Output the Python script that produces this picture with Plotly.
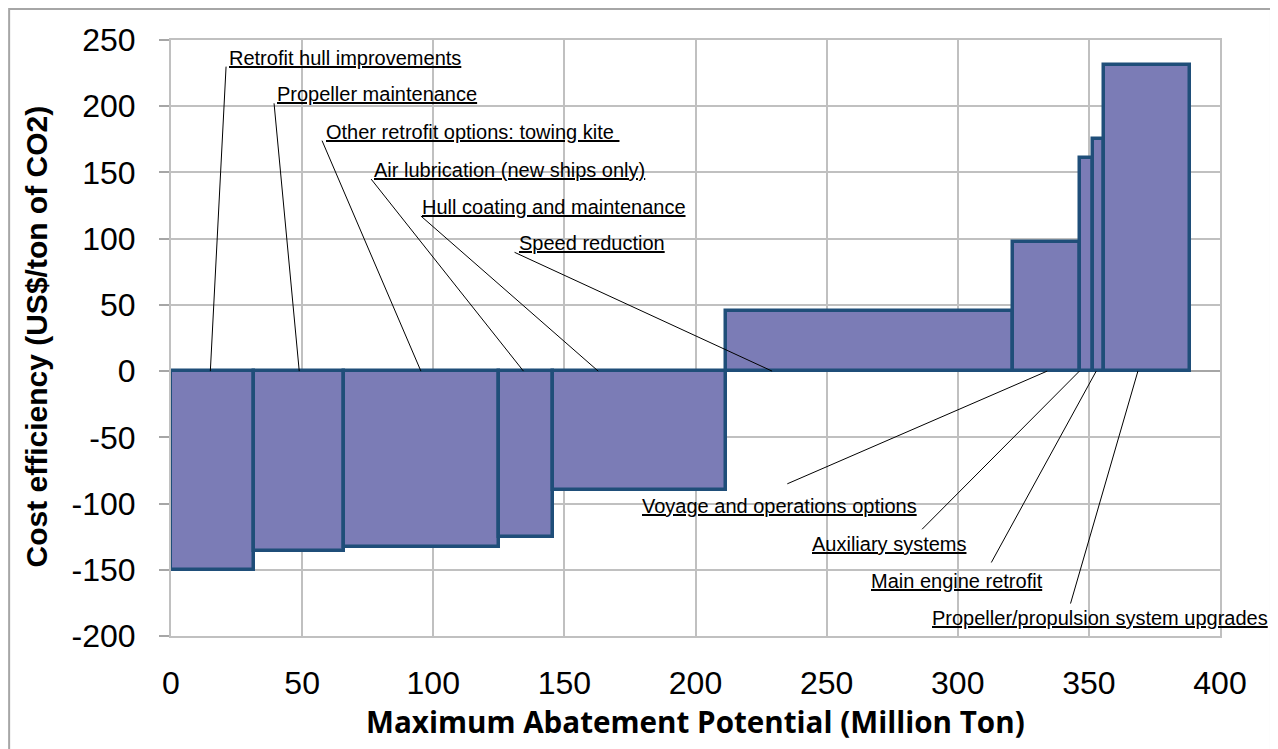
import numpy as np
import plotly.graph_objects as go

# Marginal abatement cost curve for shipping measures
measures = [
    "Retrofit hull improvements",
    "Propeller maintenance",
    "Other retrofit options: towing kite ",
    "Air lubrication (new ships only)",
    "Hull coating and maintenance",
    "Speed reduction",
    "Voyage and operations options",
    "Auxiliary systems",
    "Main engine retrofit",
    "Propeller/propulsion system upgrades",
]
abatement = [31.5, 34.3, 59.4, 20.4, 66.1, 109.3, 25.7, 4.8, 4.4, 32.6]  # Mt
cost = [-150, -136, -133, -125, -90, 45.5, 97.7, 160.7, 175.5, 231]     # US$/t CO2

x_ticks = [0, 50, 100, 150, 200, 250, 300, 350, 400]
y_ticks = [-200, -150, -100, -50, 0, 50, 100, 150, 200, 250]
y_tick_text = ["-200", "-150", "-100", "-50", "0", "50", "100", "150", "200", "250"]

# label placement: (text x, underline y, leader start x, leader start y, leader end x)
label_pos = [
    (21.4, 229.9, 21.0, 229.9, 15.0),
    (39.6, 202.2, 39.3, 202.2, 48.9),
    (58.3, 174.0, 57.6, 174.0, 95.3),
    (76.7, 145.0, 76.3, 145.0, 134.4),
    (94.9, 117.1, 95.3, 117.1, 162.9),
    (132.0, 89.7, 131.0, 89.7, 229.2),
    (178.8, -108.8, 235.0, -85.1, 334.1),
    (243.5, -137.5, 286.4, -119.4, 346.4),
    (266.2, -165.4, 312.8, -144.5, 352.8),
    (289.4, -193.2, 343.0, -175.5, 368.7),
]

widths = np.array(abatement)
edges = np.concatenate([[0], np.cumsum(widths)])
centers = edges[:-1] + widths / 2

fig = go.Figure(go.Bar(
    x=centers,
    y=cost,
    width=widths,
    marker=dict(color="#7B7CB6", line=dict(color="#1F4E79", width=3.5)),
    hovertext=measures,
    hovertemplate="%{hovertext}<br>%{y} US$/t<extra></extra>",
))

label_font = dict(family="Liberation Sans", size=20, color="black")
for name, (tx, ty, lx, ly, ex) in zip(measures, label_pos):
    fig.add_shape(type="line", xref="x", yref="y", x0=lx, y0=ly, x1=ex, y1=0,
                  line=dict(color="black", width=1))
    fig.add_annotation(x=tx, y=ty, xref="x", yref="y", text=f"<u>{name}</u>",
                       showarrow=False, xanchor="left", yanchor="bottom", yshift=-4,
                       font=label_font)

# axis titles
fig.add_annotation(xref="paper", yref="paper", x=-0.1284, y=0.503,
                   text="<b>Cost efficiency (US$/ton of CO2)</b>", textangle=-90,
                   showarrow=False, xanchor="center", yanchor="middle",
                   font=dict(family="Liberation Sans", size=30, color="black"))
fig.add_annotation(xref="paper", yref="paper", x=0.5, y=-0.144,
                   text="<b>Maximum Abatement Potential (Million Ton)</b>",
                   showarrow=False, xanchor="center", yanchor="middle",
                   font=dict(family="Open Sans", size=29.6, color="black"))

# chart border (page has an 8px body margin)
fig.add_shape(type="rect", xref="paper", yref="paper", x0=-0.1543, x1=1.0486,
              y0=-0.25, y1=1.052, line=dict(color="#A6A6A6", width=2), layer="below")

fig.update_layout(
    width=1270,
    height=741,
    showlegend=False,
    plot_bgcolor="white",
    paper_bgcolor="white",
    margin=dict(l=163, r=58, t=32, b=113),
    font=dict(family="Liberation Sans", color="black"),
    xaxis=dict(range=[0, 400], tickvals=x_ticks, showgrid=True, gridcolor="#C0C0C0",
               gridwidth=2, showline=True, mirror=True, linecolor="#C0C0C0", linewidth=2,
               zeroline=False, ticks="", tickfont=dict(size=32), ticklabelstandoff=18),
    yaxis=dict(range=[-200, 250], tickvals=y_ticks, ticktext=y_tick_text, showgrid=True,
               gridcolor="#C0C0C0", gridwidth=2, showline=True, mirror=True,
               linecolor="#C0C0C0", linewidth=2,
               zeroline=True, zerolinecolor="#A6A6A6", zerolinewidth=2,
               ticks="outside", ticklen=10, tickcolor="#A6A6A6", tickwidth=2,
               tickfont=dict(size=32), ticklabelstandoff=17),
    bargap=0,
)

fig.write_html("out.html")
